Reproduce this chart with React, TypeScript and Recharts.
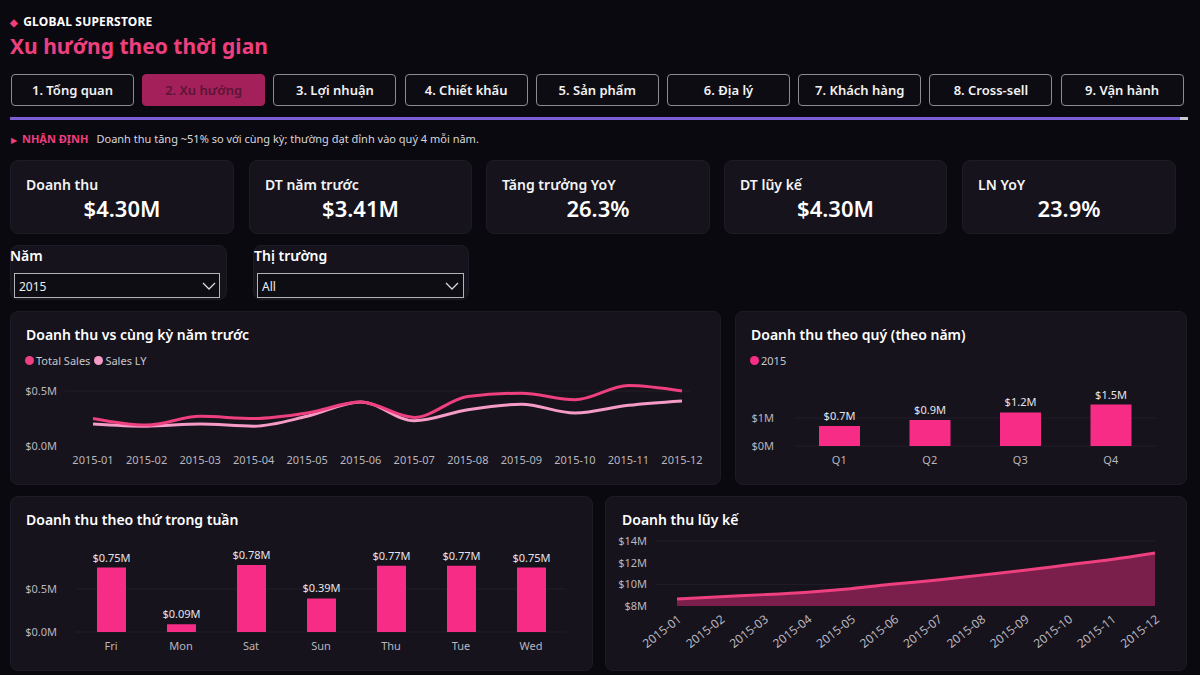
import React from "react";
import {
  LineChart, Line, BarChart, Bar, AreaChart, Area, XAxis, YAxis, CartesianGrid, LabelList,
} from "recharts";

const months = ["2015-01","2015-02","2015-03","2015-04","2015-05","2015-06","2015-07","2015-08","2015-09","2015-10","2015-11","2015-12"];
const totalSales = [0.25,0.19,0.27,0.25,0.30,0.40,0.26,0.45,0.48,0.42,0.55,0.50];
const salesLY = [0.20,0.18,0.20,0.18,0.27,0.40,0.23,0.33,0.38,0.30,0.37,0.41];
const quarters = ["Q1","Q2","Q3","Q4"];
const quarterSales = [0.71,0.93,1.2,1.48];
const weekdays = ["Fri","Mon","Sat","Sun","Thu","Tue","Wed"];
const weekdaySales = [0.75,0.09,0.78,0.39,0.77,0.77,0.75];
const cumulative = [8.64,8.86,9.05,9.28,9.6,10.02,10.4,10.85,11.3,11.8,12.3,12.9];
const tabs = ["1. Tổng quan","2. Xu hướng","3. Lợi nhuận","4. Chiết khấu","5. Sản phẩm","6. Địa lý","7. Khách hàng","8. Cross-sell","9. Vận hành"];
const kpiTitles = ["Doanh thu","DT năm trước","Tăng trưởng YoY","DT lũy kế","LN YoY"];
const kpiValues = ["$4.30M","$3.41M","26.3%","$4.30M","23.9%"];

const lineData = months.map((m, i) => ({ m, ts: totalSales[i], ly: salesLY[i] }));
const qData = quarters.map((q, i) => ({ q, v: quarterSales[i] }));
const wData = weekdays.map((d, i) => ({ d, v: weekdaySales[i] }));
const cData = months.map((m, i) => ({ m, v: cumulative[i] }));

const FONT = "'Noto Sans', 'Open Sans', sans-serif";
const BG = "#0b0910";
const PANEL = "#16131c";
const PINK = "#ee3f7f";
const BAR = "#f72c86";
const GRID = "#221e29";
const tickStyle = { fill: "#b9b6bf", fontSize: 11, fontFamily: FONT };

const abs = (l: number, t: number, extra: any = {}): React.CSSProperties => ({
  position: "absolute", left: l, top: t, ...extra,
});

const Panel = ({ l, t, w, h }: any) => (
  <div style={abs(l, t, { width: w, height: h, background: PANEL, borderRadius: 8, border: "1px solid #1f1b26", boxSizing: "border-box" })} />
);

const Chevron = ({ l, t }: any) => (
  <svg style={abs(l, t)} width="14" height="10">
    <polyline points="1,2 7,8 13,2" fill="none" stroke="#d8d8d8" strokeWidth="1.3" />
  </svg>
);

export default function App() {
  const kpiLefts = [10, 249, 486, 724, 962];
  const kpiWidths = [224, 223, 224, 223, 214];
  return (
    <div style={{ position: "absolute", left: 0, top: 0, width: 1200, height: 675, background: BG, fontFamily: FONT, overflow: "hidden", color: "#fff" }}>
      {/* header */}
      <div style={abs(10, 13, { fontSize: 12, fontWeight: 700, color: "#fff", letterSpacing: 0.2 })}>
        <span style={{ color: PINK, fontSize: 10, marginRight: 5 }}>◆</span>GLOBAL SUPERSTORE
      </div>
      <div style={abs(10, 32, { fontSize: 21, fontWeight: 700, color: PINK })}>Xu hướng theo thời gian</div>

      {/* tabs */}
      {tabs.map((t, i) => {
        const active = i === 1;
        return (
          <div key={t} style={abs(11 + i * 131.2, 74, {
            width: 123, height: 32, boxSizing: "border-box", borderRadius: 4,
            border: active ? "1px solid #a3205a" : "1px solid #8d8a94",
            background: active ? "#a3205a" : "#0e0c13",
            color: active ? "#5c1536" : "#f2f2f2",
            fontSize: 13, fontWeight: 600, display: "flex", alignItems: "center", justifyContent: "center",
          })}>{t}</div>
        );
      })}
      <div style={abs(10, 117, { width: 1170, height: 3, background: "#7a5fd8" })} />
      <div style={abs(1180, 117, { width: 8, height: 3, background: "#c9c9d0" })} />

      {/* insight */}
      <div style={abs(11, 131, { fontSize: 11, color: "#d8d6dc", whiteSpace: "nowrap" })}>
        <span style={{ color: PINK, fontSize: 8, marginRight: 5 }}>▶</span>
        <span style={{ color: PINK, fontWeight: 700, marginRight: 8 }}>NHẬN ĐỊNH</span>
        Doanh thu tăng ~51% so với cùng kỳ; thường đạt đỉnh vào quý 4 mỗi năm.
      </div>

      {/* KPI cards */}
      {kpiTitles.map((t, i) => (
        <React.Fragment key={t}>
          <Panel l={kpiLefts[i]} t={160} w={kpiWidths[i]} h={74} />
          <div style={abs(kpiLefts[i] + 16, 175, { fontSize: 14, fontWeight: 600, color: "#f4f4f4" })}>{t}</div>
          <div style={abs(kpiLefts[i], 193, { width: kpiWidths[i], textAlign: "center", fontSize: 22, fontWeight: 600, color: "#fff" })}>{kpiValues[i]}</div>
        </React.Fragment>
      ))}

      {/* slicers */}
      <Panel l={10} t={245} w={217} h={55} />
      <div style={abs(10, 246, { fontSize: 14, fontWeight: 600 })}>Năm</div>
      <div style={abs(14, 273, { width: 206, height: 25, border: "1px solid #b5b3ba", boxSizing: "border-box", background: "#0f0d14" })} />
      <div style={abs(19, 278, { fontSize: 12, color: "#eee" })}>2015</div>
      <Chevron l={202} t={281} />
      <Panel l={253} t={245} w={216} h={55} />
      <div style={abs(254, 246, { fontSize: 14, fontWeight: 600 })}>Thị trường</div>
      <div style={abs(257, 273, { width: 207, height: 25, border: "1px solid #b5b3ba", boxSizing: "border-box", background: "#0f0d14" })} />
      <div style={abs(262, 278, { fontSize: 12, color: "#eee" })}>All</div>
      <Chevron l={445} t={281} />

      {/* line chart panel */}
      <Panel l={10} t={311} w={711} h={174} />
      <div style={abs(26, 325, { fontSize: 14, fontWeight: 600 })}>Doanh thu vs cùng kỳ năm trước</div>
      <div style={abs(25, 353, { fontSize: 11, color: "#c9c6ce", display: "flex", alignItems: "center", whiteSpace: "nowrap" })}>
        <span style={{ width: 9, height: 9, borderRadius: 5, background: PINK, display: "inline-block", marginRight: 2 }} />Total Sales
        <span style={{ width: 9, height: 9, borderRadius: 5, background: "#f59bc6", display: "inline-block", marginLeft: 4, marginRight: 2 }} />Sales LY
      </div>
      <div style={abs(10, 372)}>
        <LineChart width={700} height={100} data={lineData} margin={{ top: 8, right: 20, bottom: 0, left: 0 }}>
          <CartesianGrid vertical={false} horizontalValues={[0.5]} stroke={GRID} />
          <XAxis dataKey="m" tick={tickStyle} axisLine={false} tickLine={false} height={26} padding={{ left: 28, right: 8 }} interval={0} tickMargin={4} />
          <YAxis domain={[0, 0.6]} ticks={[0, 0.5]} tick={tickStyle} axisLine={false} tickLine={false} width={55} tickFormatter={(v: number) => `$${v.toFixed(1)}M`} />
          <Line type="monotone" dataKey="ly" stroke="#f59bc6" strokeWidth={3} dot={false} isAnimationActive={false} />
          <Line type="monotone" dataKey="ts" stroke={PINK} strokeWidth={3} dot={false} isAnimationActive={false} />
        </LineChart>
      </div>

      {/* quarterly panel */}
      <Panel l={735} t={311} w={452} h={174} />
      <div style={abs(751, 325, { fontSize: 14, fontWeight: 600 })}>Doanh thu theo quý (theo năm)</div>
      <div style={abs(750, 353, { fontSize: 11, color: "#c9c6ce", display: "flex", alignItems: "center" })}>
        <span style={{ width: 9, height: 9, borderRadius: 5, background: BAR, display: "inline-block", marginRight: 2 }} />2015
      </div>
      <div style={abs(740, 380)}>
        <BarChart width={440} height={90} data={qData} margin={{ top: 10, right: 24, bottom: 0, left: 0 }}>
          <CartesianGrid vertical={false} horizontalValues={[0, 1]} stroke={GRID} />
          <XAxis dataKey="q" tick={tickStyle} axisLine={false} tickLine={false} height={24} tickMargin={4} />
          <YAxis domain={[0, 2]} ticks={[0, 1]} tick={tickStyle} axisLine={false} tickLine={false} width={54} tickMargin={14} tickFormatter={(v: number) => `$${v}M`} />
          <Bar dataKey="v" fill={BAR} barSize={41} isAnimationActive={false}>
            <LabelList dataKey="v" position="top" offset={6} fill="#e6e4ea" fontSize={11} fontFamily={FONT} formatter={(v: any) => `$${Number(v).toFixed(1)}M`} />
          </Bar>
        </BarChart>
      </div>

      {/* weekday panel */}
      <Panel l={10} t={496} w={583} h={175} />
      <div style={abs(26, 510, { fontSize: 14, fontWeight: 600 })}>Doanh thu theo thứ trong tuần</div>
      <div style={abs(10, 536)}>
        <BarChart width={576} height={120} data={wData} margin={{ top: 10, right: 20, bottom: 0, left: 0 }}>
          <CartesianGrid vertical={false} horizontalValues={[0, 0.5]} stroke={GRID} />
          <XAxis dataKey="d" tick={tickStyle} axisLine={false} tickLine={false} height={24} tickMargin={4} />
          <YAxis domain={[0, 1]} ticks={[0, 0.5]} tick={tickStyle} axisLine={false} tickLine={false} width={66} tickMargin={13} tickFormatter={(v: number) => `$${v.toFixed(1)}M`} />
          <Bar dataKey="v" fill={BAR} barSize={29} isAnimationActive={false}>
            <LabelList dataKey="v" position="top" offset={6} fill="#e6e4ea" fontSize={11} fontFamily={FONT} formatter={(v: any) => `$${Number(v).toFixed(2)}M`} />
          </Bar>
        </BarChart>
      </div>

      {/* cumulative panel */}
      <Panel l={605} t={496} w={582} h={175} />
      <div style={abs(622, 510, { fontSize: 14, fontWeight: 600 })}>Doanh thu lũy kế</div>
      <div style={abs(605, 531)}>
        <AreaChart width={570} height={125} data={cData} margin={{ top: 10, right: 20, bottom: 0, left: 0 }}>
          <CartesianGrid vertical={false} horizontalValues={[8, 10, 12, 14]} stroke={GRID} />
          <XAxis dataKey="m" tick={{ ...tickStyle, fontSize: 12 }} axisLine={false} tickLine={false} height={50} padding={{ left: 22, right: 0 }} interval={0} angle={-38} textAnchor="end" tickMargin={2} />
          <YAxis domain={[8, 14]} ticks={[8, 10, 12, 14]} allowDataOverflow tick={tickStyle} axisLine={false} tickLine={false} width={50} tickFormatter={(v: number) => `$${v}M`} />
          <Area type="monotone" dataKey="v" stroke={PINK} strokeWidth={3} fill="#7a1f4b" fillOpacity={1} isAnimationActive={false} />
        </AreaChart>
      </div>
    </div>
  );
}
